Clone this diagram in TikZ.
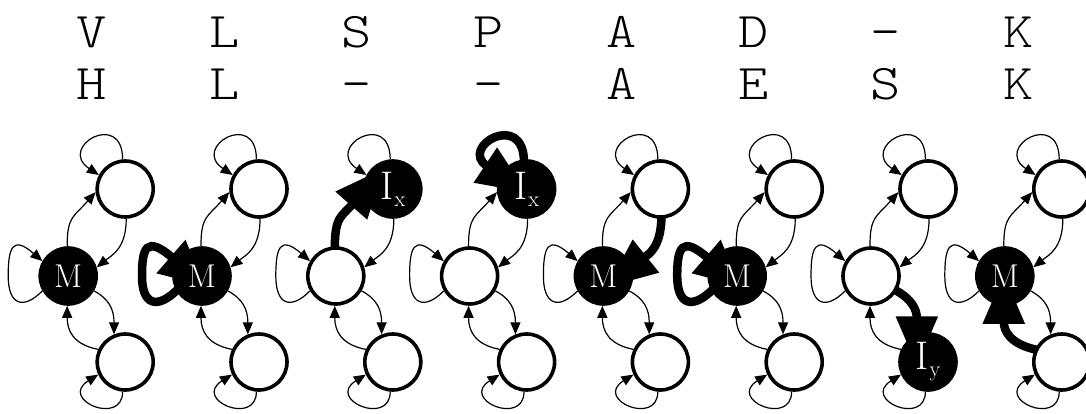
\documentclass[tikz,border=0pt]{standalone}
\usepackage{fontspec}
\usepackage{graphicx}
\usetikzlibrary{arrows.meta}
\pgfdeclarelayer{edges}
\pgfsetlayers{edges,main}
\newfontfamily\seqface{Latin Modern Mono Light}
\newcommand\seqfont{\fontsize{50}{50}\selectfont\seqface}
\newcommand\seqchar[1]{\scalebox{1.15}[1]{#1}}
\newcommand\insname[1]{I\kern1pt\raisebox{-7pt}{\fontsize{22}{22}\selectfont #1}}

\tikzset{
  hmmstate/.style={circle, draw=black, line width=3.6pt, minimum size=56pt,
    inner sep=0pt, fill=white, node contents={}},
  hmmactive/.style={hmmstate, fill=black, text=white},
  hotM/.style={hmmactive, font=\fontsize{33}{33}\selectfont, node contents={M}},
  hotT/.style={hmmactive, font=\fontsize{40}{40}\selectfont, node contents={\insname{x}}},
  hotB/.style={hmmactive, font=\fontsize{40}{40}\selectfont, node contents={\insname{y}}},
  thinedge/.style={line width=1.2pt, -{Triangle[length=12pt,width=10pt]}},
  thickedge/.style={line width=8.5pt, -{Triangle[length=50pt,width=40pt]},
    shorten >=-32pt, shorten <=-3pt},
  thickloop/.style={line width=8.5pt, -{Triangle[length=45pt,width=42pt]},
    shorten >=-38pt, shorten <=-3pt},
  seqletter/.style={anchor=base, inner sep=0pt, font=\seqfont},
}

\begin{document}
\begin{tikzpicture}[x=1pt,y=1pt]
\useasboundingbox (0,0) rectangle (1086,-414);
\clip (0,0) rectangle (1086,-414);

% the two aligned sequences
\foreach \c [count=\k from 0] in {V,L,S,P,A,D,-,K}
  \node[seqletter] (top\k) at (92+132.3*\k, -48) {\seqchar{\c}};
\foreach \c [count=\k from 0] in {H,L,-,-,A,E,S,K}
  \node[seqletter] (bot\k) at (92+132.3*\k, -100) {\seqchar{\c}};

% states of each column: M (match), T = I_x (upper), B = I_y (lower)
\foreach \i/\hot in {1/M,2/M,3/T,4/T,5/M,6/M,7/B,8/M} {
  \pgfmathsetmacro\mx{68.2+133.8*(\i-1)}
  \tikzset{kindM/.style=hmmstate, kindT/.style=hmmstate, kindB/.style=hmmstate}
  \edef\setkind{\noexpand\tikzset{kind\hot/.style=hot\hot}}\setkind
  \node (M\i) at (\mx,-276) [kindM];
  \node (T\i) at (\mx+57,-189) [kindT];
  \node (B\i) at (\mx+57,-362) [kindB];
}

% transitions; the one taken by the alignment path is drawn thick
\begin{pgfonlayer}{edges}
\foreach \i/\hot/\how in {1/none/thinedge,2/ML/thickloop,3/MT/thickedge,
    4/TL/thickedge,5/TM/thickedge,6/ML/thickloop,7/MB/thickedge,8/BM/thickedge} {
  \tikzset{eTL/.style=thinedge, eMT/.style=thinedge, eTM/.style=thinedge,
    eML/.style=thinedge, eMB/.style=thinedge, eBM/.style=thinedge,
    eBL/.style=thinedge, enone/.style={}}
  \edef\sethot{\noexpand\tikzset{e\hot/.style=\how}}\sethot
  \draw[eTL] (T\i.95) .. controls +(0,50) and +(-42,28) .. (T\i.152);
  \draw[eMT] (M\i.92) .. controls +(0,30) and +(-22,-25) .. (T\i.186);
  \draw[eTM] (T\i.272) .. controls +(0,-30) and +(15,12) .. (M\i.17);
  \draw[eML] (M\i.210) .. controls +(-20,-20) and +(0,-28) .. ([xshift=-60pt]M\i.center)
    .. controls +(0,28) and +(-30,26) .. (M\i.150);
  \draw[eMB] (M\i.-30) .. controls +(15,-8) and +(0,25) .. (B\i.112);
  \draw[eBM] (B\i.155) .. controls +(-25,5) and +(0,-25) .. (M\i.268);
  \draw[eBL] (B\i.265) .. controls +(0,-35) and +(-40,-25) .. (B\i.205);
}
\end{pgfonlayer}
\end{tikzpicture}
\end{document}
